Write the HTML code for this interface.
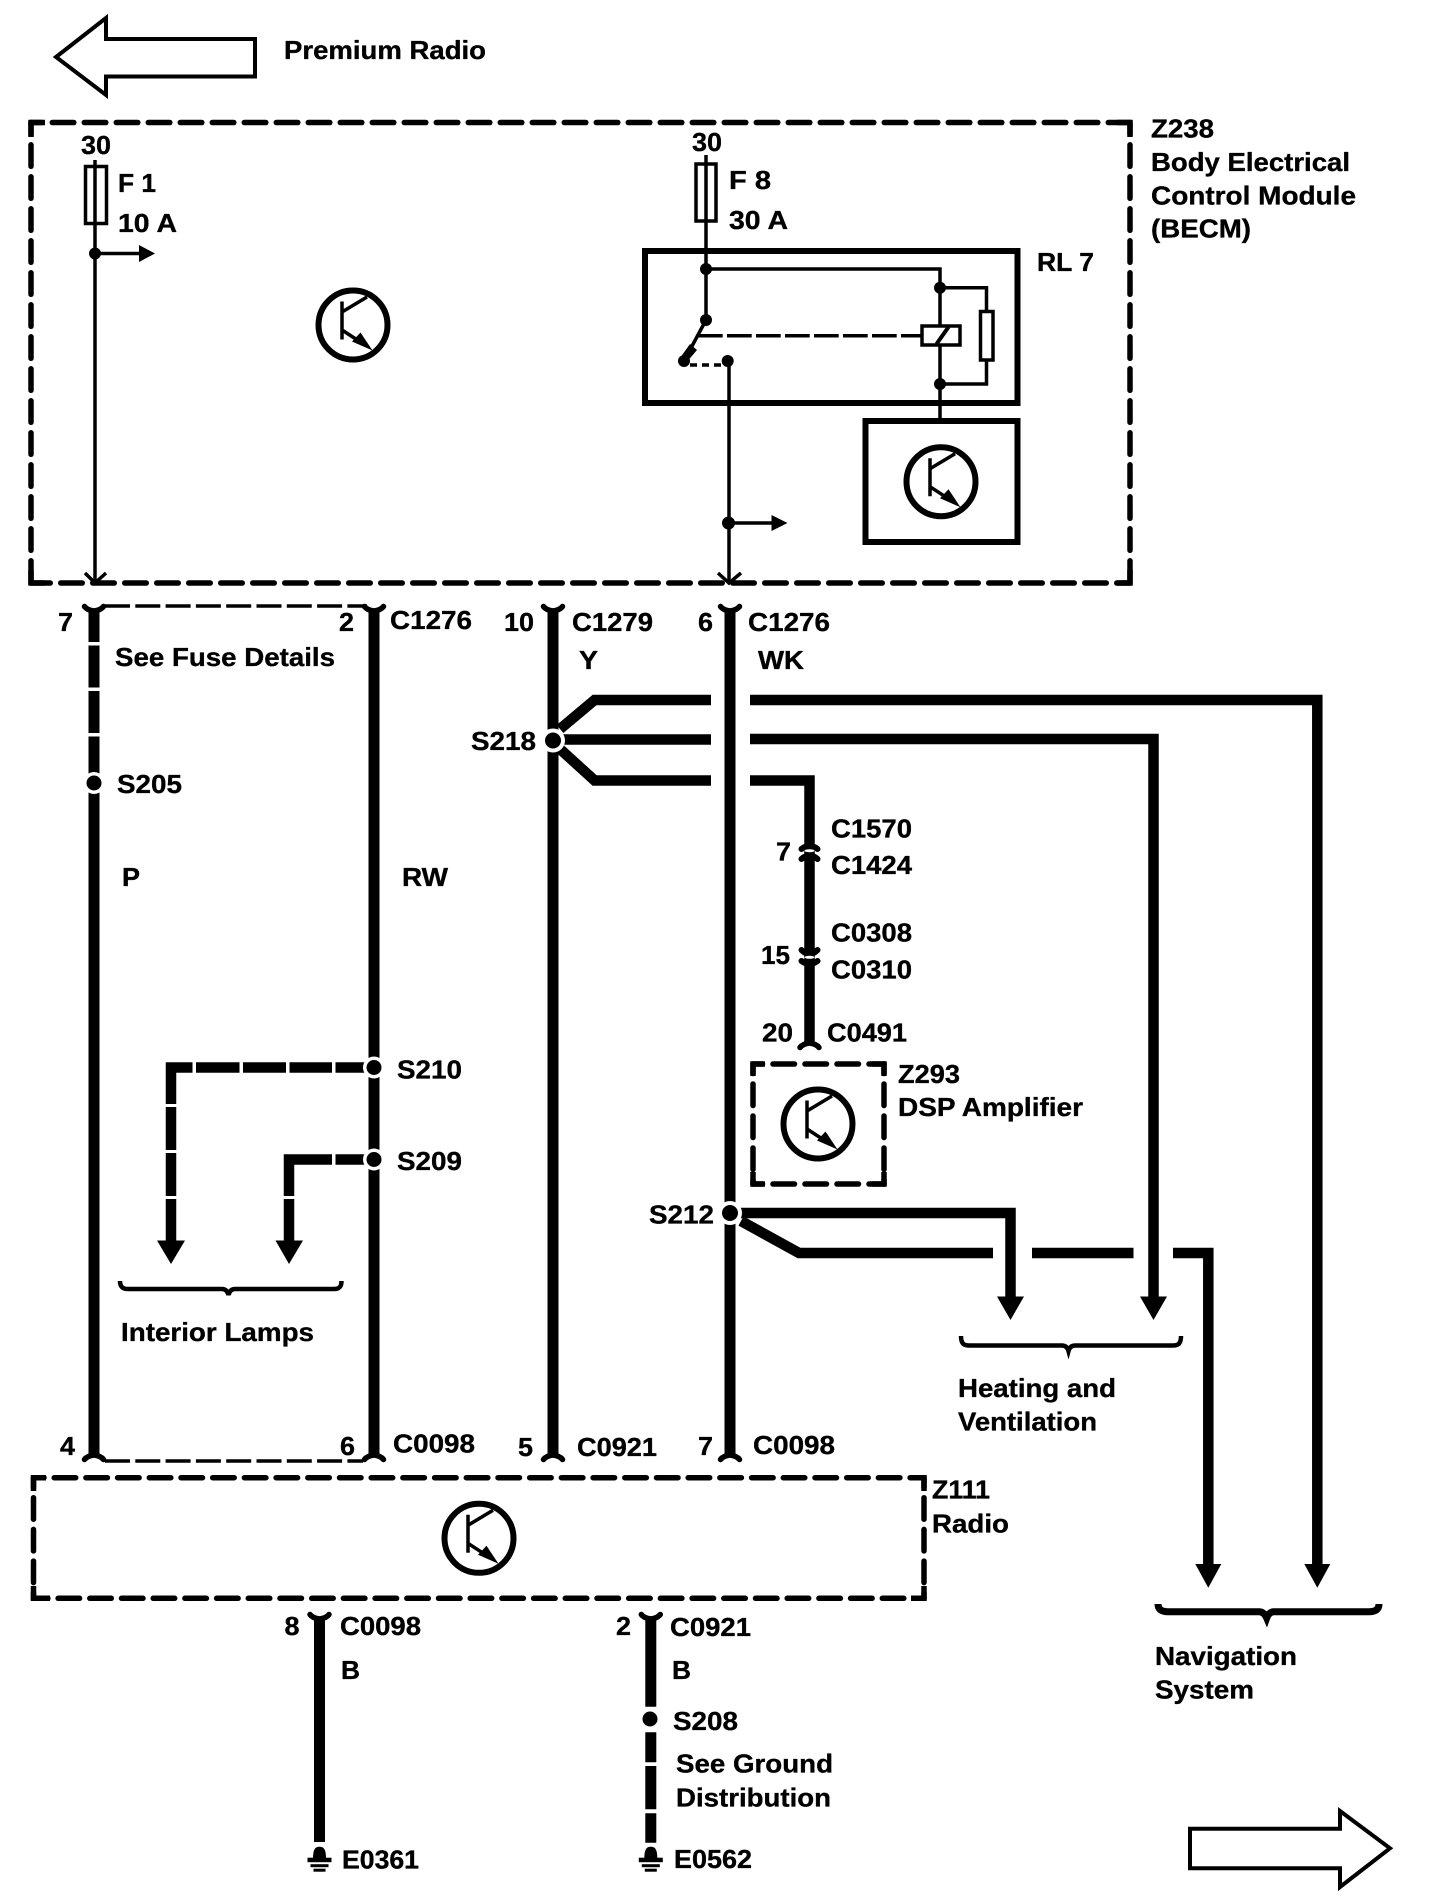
<!DOCTYPE html>
<html><head><meta charset="utf-8"><style>
html,body{margin:0;padding:0;background:#fff}
svg{display:block}
text{font-family:"Liberation Sans",sans-serif;font-weight:bold;font-size:26px;fill:#000;stroke:#000;stroke-width:.35px}
</style></head><body>
<svg width="1440" height="1904" viewBox="0 0 1440 1904" xmlns="http://www.w3.org/2000/svg">
<defs>
<g id="tr">
<circle r="34.5" fill="none" stroke="#000" stroke-width="6"/>
<path d="M-11 -23.5V14.5M-11 -13L14 -28M-11 5L12 20" fill="none" stroke="#000" stroke-width="3.5"/>
<polygon points="19.5,25.5 -1,16.5 7.5,7.5" fill="#000"/>
</g>
<path id="ft" d="M-9.5 2.5Q-7 6 0 7Q7 6 9.5 2.5" fill="none" stroke="#000" stroke-width="5.5" stroke-linecap="round"/>
<path id="fb" d="M-9.5 -2.5Q-7 -6 0 -7Q7 -6 9.5 -2.5" fill="none" stroke="#000" stroke-width="5.5" stroke-linecap="round"/>
<g id="gnd" fill="#000">
<path d="M-6.5 12C-6.5 2 -4 0 0 0C4 0 6.5 2 6.5 12Z"/>
<rect x="-12" y="11" width="24" height="4.5"/>
<rect x="-9" y="17.5" width="18" height="3"/>
<rect x="-6" y="22" width="12" height="3"/>
</g>
</defs>

<!-- big arrows -->
<path d="M255 39H106V18L56 57L106 95V76.5H255Z" fill="#fff" stroke="#000" stroke-width="4"/>
<path d="M1190 1828.7H1340V1811L1390 1848.3L1340 1887V1868.3H1190Z" fill="#fff" stroke="#000" stroke-width="4"/>

<!-- module boxes -->
<g fill="none" stroke="#000" stroke-width="5.5" stroke-linecap="round">
<g stroke-dasharray="21.5 10.5">
<path d="M31 122.5H1130" stroke-dashoffset="10.7"/>
<path d="M31 583H1130" stroke-dashoffset="2.25"/>
<path d="M31 122.5V583" stroke-dashoffset="9.7"/>
<path d="M1130 122.5V583" stroke-dashoffset="9.7"/>
<path d="M753 1064H884" stroke-dashoffset="12"/>
<path d="M753 1184H884" stroke-dashoffset="12"/>
<path d="M753 1064V1184" stroke-dashoffset="12"/>
<path d="M884 1064V1184" stroke-dashoffset="12"/>
</g>
<g stroke-dasharray="21.5 10.2">
<path d="M33.5 1477.7H924" stroke-dashoffset="11"/>
<path d="M33.5 1598.3H924" stroke-dashoffset="7.1"/>
<path d="M33.5 1477.7V1598.3" stroke-dashoffset="11.7"/>
<path d="M924 1477.7V1598.3" stroke-dashoffset="11.7"/>
</g>
</g>
<g fill="none" stroke="#000" stroke-width="5.5" stroke-linecap="butt">
<path d="M31 137V122.5H45"/><path d="M31 570V583H45"/><path d="M1117 122.5H1130V137"/><path d="M1117 583H1130V570"/>
<path d="M33.5 1491V1477.7H46"/><path d="M33.5 1586V1598.3H50"/><path d="M911 1477.7H924V1491"/><path d="M911 1598.3H924V1586"/>
<path d="M753 1076V1064H765"/><path d="M753 1172V1184H765"/><path d="M872 1064H884V1076"/><path d="M872 1184H884V1172"/>
</g>

<!-- BECM internals -->
<g fill="none" stroke="#000" stroke-width="3.5">
<path d="M95 160V583"/>
<path d="M95 253.5H140"/>
<path d="M85 573L95 583L106 573"/>
<path d="M706 155V320L684 361"/>
<path d="M706 269H940V421"/>
<path d="M940 287.7H986.5V384H940"/>
<path d="M729 361V582"/>
<path d="M729 523H773"/>
<path d="M718 573L729 583L741 573"/>
<path d="M698 335.7H922" stroke-dasharray="24.7 4.3"/>
<path d="M690 365H724" stroke-dasharray="7 5"/>
</g>
<polygon points="690,344 697,350 686,363 680,358" fill="#000"/>
<rect x="85.5" y="166.5" width="21" height="57" fill="none" stroke="#000" stroke-width="3.5"/>
<rect x="696" y="164" width="20" height="57" fill="none" stroke="#000" stroke-width="3.5"/>
<rect x="645" y="251" width="372.5" height="152" fill="none" stroke="#000" stroke-width="6"/>
<rect x="865.5" y="421" width="152" height="121" fill="#fff" stroke="#000" stroke-width="6"/>
<rect x="980.5" y="311.5" width="12.5" height="48.5" fill="#fff" stroke="#000" stroke-width="3.5"/>
<rect x="922" y="326" width="38" height="19" fill="#fff" stroke="#000" stroke-width="3.5"/>
<path d="M936.5 344L948.5 327" stroke="#000" stroke-width="4"/>
<g fill="#000">
<polygon points="139,245 155,253.5 139,262"/>
<polygon points="771.5,515 787.5,523 771.5,531"/>
<circle cx="95" cy="253.5" r="6"/>
<circle cx="706" cy="269" r="6"/>
<circle cx="706" cy="320" r="6"/>
<circle cx="684" cy="361" r="6"/>
<circle cx="727.7" cy="361" r="6"/>
<circle cx="940" cy="287.7" r="6"/>
<circle cx="940" cy="384" r="6"/>
<circle cx="728.5" cy="523" r="6.5"/>
</g>
<use href="#tr" x="353" y="325"/>
<use href="#tr" x="941" y="481.7"/>
<use href="#tr" x="479" y="1538.3"/>
<use href="#tr" x="818" y="1124"/>

<!-- dashed connector links -->
<path d="M105 606H367" stroke="#000" stroke-width="3.5" fill="none" stroke-dasharray="25 5.3"/>
<path d="M105 1461H363" stroke="#000" stroke-width="3.5" fill="none" stroke-dasharray="25 5.3"/>

<!-- main wires -->
<g stroke="#000" stroke-width="11" fill="none">
<path d="M94 610V1456"/>
<path d="M374 610V1456"/>
<path d="M553 610V1456"/>
<path d="M730 610V1456"/>
<path d="M319.5 1618V1842"/>
<path d="M650.8 1618V1706.7M650.8 1732.3V1762.3M650.8 1766V1809.3M650.8 1813.3V1842.7"/>
</g>
<g fill="#fff">
<rect x="85" y="642" width="18" height="3.5"/>
<rect x="85" y="687.5" width="18" height="3.5"/>
<rect x="85" y="733" width="18" height="3.5"/>
</g>
<use href="#ft" x="94" y="604"/><use href="#ft" x="374" y="604"/><use href="#ft" x="553" y="604"/><use href="#ft" x="730" y="604"/>
<use href="#fb" x="94" y="1462"/><use href="#fb" x="374" y="1462"/><use href="#fb" x="553" y="1462"/><use href="#fb" x="730" y="1462"/>
<use href="#ft" x="319.5" y="1612"/><use href="#ft" x="650.8" y="1612"/>
<use href="#gnd" x="319.5" y="1846.7"/><use href="#gnd" x="650.8" y="1846.7"/>

<!-- S218 branches -->
<g stroke="#000" stroke-width="10.5" fill="none" stroke-linejoin="miter">
<path d="M560 729L594.6 700H711"/>
<path d="M553 739.5H711"/>
<path d="M560 749L594.6 780.5H711"/>
<path d="M750 700H1317.3V1568"/>
<path d="M750 739H1153.5V1300"/>
<path d="M750 780.5H809.5V1044"/>
<path d="M730 1213H1010.5V1300"/>
<path d="M741 1221L799 1253H993"/>
<path d="M1032 1253H1133.5"/>
<path d="M1173 1253H1208.3V1568"/>
<path d="M374 1067.5H171V1245"/>
<path d="M374 1159.5H289V1245"/>
</g>
<g fill="#fff">
<rect x="192.5" y="1060" width="3.5" height="15"/>
<rect x="239.5" y="1060" width="3.5" height="15"/>
<rect x="286" y="1060" width="3.5" height="15"/>
<rect x="332" y="1060" width="3.5" height="15"/>
<rect x="332" y="1152" width="3.5" height="15"/>
<rect x="164" y="1104" width="15" height="3"/>
<rect x="164" y="1150" width="15" height="3"/>
<rect x="164" y="1196" width="15" height="3"/>
<rect x="282" y="1196" width="15" height="3"/>
</g>
<g fill="#000">
<polygon points="157,1240.5 185,1240.5 171,1264"/>
<polygon points="275.5,1240.5 303,1240.5 289,1264"/>
<polygon points="997,1296.5 1024,1296.5 1010.5,1320"/>
<polygon points="1140,1296.5 1167,1296.5 1153.5,1320"/>
<polygon points="1195.3,1564 1221.3,1564 1208.3,1587.7"/>
<polygon points="1304.3,1564 1330.3,1564 1317.3,1587.7"/>
</g>
<!-- inline connectors -->
<g fill="none" stroke="#000" stroke-width="6" stroke-linecap="round">
<path d="M801.5 849Q809.5 843 817.5 849"/>
<path d="M801.5 859Q809.5 852 817.5 859"/>
<path d="M801.5 950Q809.5 958 817.5 950"/>
<path d="M801.5 961Q809.5 967 817.5 961"/>
</g>
<ellipse cx="809.5" cy="850.7" rx="5" ry="1.5" fill="#fff"/>
<ellipse cx="809.5" cy="957.3" rx="5" ry="1.5" fill="#fff"/>
<use href="#fb" x="809.5" y="1050"/>

<!-- splices -->
<g fill="#fff">
<circle cx="94" cy="783" r="11"/>
<circle cx="374" cy="1067.5" r="11"/>
<circle cx="374" cy="1159.5" r="11"/>
<circle cx="553" cy="740.5" r="12"/>
<circle cx="730" cy="1213" r="12"/>
</g>
<g fill="#000">
<circle cx="94" cy="783" r="7.5"/>
<circle cx="374" cy="1067.5" r="7.5"/>
<circle cx="374" cy="1159.5" r="7.5"/>
<circle cx="553" cy="740.5" r="8"/>
<circle cx="730" cy="1213" r="8"/>
<circle cx="650" cy="1719" r="7.5"/>
</g>

<!-- braces -->
<g fill="none" stroke="#000" stroke-width="4.5">
<path d="M120 1281C120 1287 123 1289 128 1289H222Q227 1289 228.5 1295Q230 1289 235 1289H334C339 1289 341.5 1287 341.5 1281"/>
<path d="M961 1336C961 1344 964 1345.5 969 1345.5H1062Q1067 1345.5 1068.5 1351Q1070 1345.5 1075 1345.5H1173C1178 1345.5 1181 1344 1181 1336"/>
<path d="M1158 1604C1158 1609 1161 1611.7 1168 1611.7H1259Q1264 1611.7 1266.7 1618Q1269 1611.7 1274 1611.7H1369C1376 1611.7 1379 1609 1379 1604" stroke-width="7"/>
</g>

<!-- labels -->
<text x="284" y="59" textLength="202" lengthAdjust="spacingAndGlyphs">Premium Radio</text>
<text x="81" y="154" textLength="30" lengthAdjust="spacingAndGlyphs">30</text>
<text x="118" y="192" textLength="38" lengthAdjust="spacingAndGlyphs">F 1</text>
<text x="118" y="232" textLength="59" lengthAdjust="spacingAndGlyphs">10 A</text>
<text x="692" y="151" textLength="30" lengthAdjust="spacingAndGlyphs">30</text>
<text x="729" y="189" textLength="42" lengthAdjust="spacingAndGlyphs">F 8</text>
<text x="729" y="229" textLength="59" lengthAdjust="spacingAndGlyphs">30 A</text>
<text x="1037" y="271" textLength="57" lengthAdjust="spacingAndGlyphs">RL 7</text>
<text x="1151" y="137.5" textLength="63" lengthAdjust="spacingAndGlyphs">Z238</text>
<text x="1151" y="171" textLength="199" lengthAdjust="spacingAndGlyphs">Body Electrical</text>
<text x="1151" y="204.5" textLength="205" lengthAdjust="spacingAndGlyphs">Control Module</text>
<text x="1151" y="237.5" textLength="100" lengthAdjust="spacingAndGlyphs">(BECM)</text>

<text x="58" y="631" textLength="15" lengthAdjust="spacingAndGlyphs">7</text>
<text x="339" y="631" textLength="15" lengthAdjust="spacingAndGlyphs">2</text>
<text x="390" y="629" textLength="82" lengthAdjust="spacingAndGlyphs">C1276</text>
<text x="504" y="631" textLength="30" lengthAdjust="spacingAndGlyphs">10</text>
<text x="572" y="631" textLength="81" lengthAdjust="spacingAndGlyphs">C1279</text>
<text x="698" y="631" textLength="15" lengthAdjust="spacingAndGlyphs">6</text>
<text x="748" y="631" textLength="82" lengthAdjust="spacingAndGlyphs">C1276</text>
<text x="579" y="669" textLength="19" lengthAdjust="spacingAndGlyphs">Y</text>
<text x="758" y="669" textLength="46" lengthAdjust="spacingAndGlyphs">WK</text>
<text x="115" y="666" textLength="220" lengthAdjust="spacingAndGlyphs">See Fuse Details</text>
<text x="117" y="793" textLength="65" lengthAdjust="spacingAndGlyphs">S205</text>
<text x="122" y="886" textLength="18" lengthAdjust="spacingAndGlyphs">P</text>
<text x="402" y="886" textLength="46" lengthAdjust="spacingAndGlyphs">RW</text>
<text x="471" y="750" textLength="65" lengthAdjust="spacingAndGlyphs">S218</text>
<text x="397" y="1078.5" textLength="65" lengthAdjust="spacingAndGlyphs">S210</text>
<text x="397" y="1170" textLength="65" lengthAdjust="spacingAndGlyphs">S209</text>
<text x="121" y="1341" textLength="193" lengthAdjust="spacingAndGlyphs">Interior Lamps</text>

<text x="776" y="860.7" textLength="15" lengthAdjust="spacingAndGlyphs">7</text>
<text x="831" y="837.5" textLength="81" lengthAdjust="spacingAndGlyphs">C1570</text>
<text x="831" y="874" textLength="81" lengthAdjust="spacingAndGlyphs">C1424</text>
<text x="761" y="964" textLength="29" lengthAdjust="spacingAndGlyphs">15</text>
<text x="831" y="941.7" textLength="81" lengthAdjust="spacingAndGlyphs">C0308</text>
<text x="831" y="978.7" textLength="81" lengthAdjust="spacingAndGlyphs">C0310</text>
<text x="762" y="1041.7" textLength="31" lengthAdjust="spacingAndGlyphs">20</text>
<text x="827" y="1041.7" textLength="80" lengthAdjust="spacingAndGlyphs">C0491</text>
<text x="898" y="1083" textLength="62" lengthAdjust="spacingAndGlyphs">Z293</text>
<text x="898" y="1116" textLength="185" lengthAdjust="spacingAndGlyphs">DSP Amplifier</text>
<text x="649" y="1223.5" textLength="65" lengthAdjust="spacingAndGlyphs">S212</text>
<text x="958" y="1397" textLength="158" lengthAdjust="spacingAndGlyphs">Heating and</text>
<text x="958" y="1430.5" textLength="139" lengthAdjust="spacingAndGlyphs">Ventilation</text>

<text x="60" y="1455" textLength="15" lengthAdjust="spacingAndGlyphs">4</text>
<text x="340" y="1455" textLength="15" lengthAdjust="spacingAndGlyphs">6</text>
<text x="393" y="1452.5" textLength="82" lengthAdjust="spacingAndGlyphs">C0098</text>
<text x="518" y="1456" textLength="15" lengthAdjust="spacingAndGlyphs">5</text>
<text x="577" y="1456" textLength="80" lengthAdjust="spacingAndGlyphs">C0921</text>
<text x="698" y="1455" textLength="15" lengthAdjust="spacingAndGlyphs">7</text>
<text x="753" y="1454" textLength="82" lengthAdjust="spacingAndGlyphs">C0098</text>
<text x="932" y="1498.3" textLength="58" lengthAdjust="spacingAndGlyphs">Z111</text>
<text x="932" y="1532.3" textLength="77" lengthAdjust="spacingAndGlyphs">Radio</text>

<text x="284.5" y="1635" textLength="15" lengthAdjust="spacingAndGlyphs">8</text>
<text x="340" y="1635" textLength="81" lengthAdjust="spacingAndGlyphs">C0098</text>
<text x="341" y="1679" textLength="19" lengthAdjust="spacingAndGlyphs">B</text>
<text x="616" y="1635" textLength="15" lengthAdjust="spacingAndGlyphs">2</text>
<text x="670" y="1636" textLength="81" lengthAdjust="spacingAndGlyphs">C0921</text>
<text x="672" y="1679" textLength="19" lengthAdjust="spacingAndGlyphs">B</text>
<text x="673" y="1730" textLength="65" lengthAdjust="spacingAndGlyphs">S208</text>
<text x="676" y="1772.7" textLength="157" lengthAdjust="spacingAndGlyphs">See Ground</text>
<text x="676" y="1806.7" textLength="155" lengthAdjust="spacingAndGlyphs">Distribution</text>
<text x="342" y="1868.3" textLength="77" lengthAdjust="spacingAndGlyphs">E0361</text>
<text x="674" y="1868" textLength="78" lengthAdjust="spacingAndGlyphs">E0562</text>
<text x="1155" y="1665" textLength="142" lengthAdjust="spacingAndGlyphs">Navigation</text>
<text x="1155" y="1698.3" textLength="99" lengthAdjust="spacingAndGlyphs">System</text>
</svg>
</body></html>
